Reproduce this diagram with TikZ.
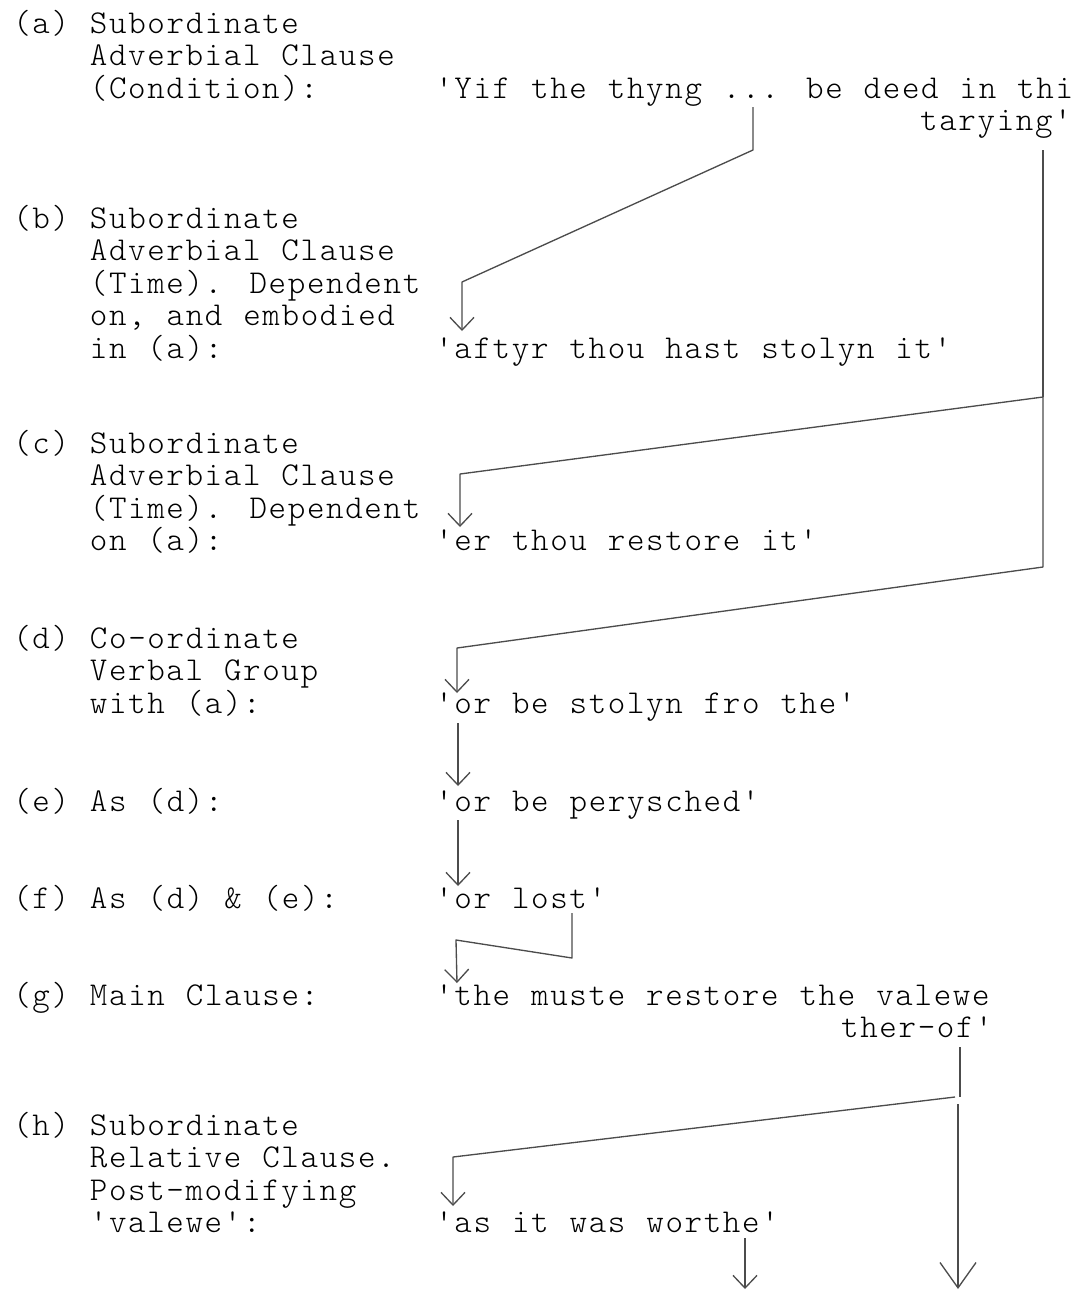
\documentclass[tikz,border=0pt]{standalone}
\usepackage{fontspec}
\newfontfamily\typefont{lmmonolt10-regular.otf}[LetterSpace=4.95,WordSpace={1.0943,0,0}]
\usetikzlibrary{arrows.meta}
\begin{document}
\begin{tikzpicture}[x=0.75pt,y=-0.75pt,
  txt/.style={anchor=base west,inner sep=0pt,font=\typefont\fontsize{25}{32}\selectfont},
  rtxt/.style={txt,anchor=base east},
  conn/.style={draw=black!70,line width=1pt,line join=round},
  arr/.style={conn,-{Straight Barb[length=9.5pt,width=18pt,line width=1pt]}},
  bigarr/.style={conn,-{Straight Barb[length=19pt,width=27pt,line width=1pt]}}]
\useasboundingbox (0,0) rectangle (1073,1290);
% (a)
\node[txt] (la1) at (13,33) {(a) Subordinate};
\node[txt] (la2) at (89.6,65.5) {Adverbial Clause};
\node[txt] (la3) at (89.6,98) {(Condition):};
\node[txt] (ra1) at (435,98) {'Yif the thyng ... be deed in thi};
\node[rtxt] (ra2) at (1072,130.5) {tarying'};
% (b)
\node[txt] (lb1) at (13,228) {(b) Subordinate};
\node[txt] (lb2) at (89.6,260.5) {Adverbial Clause};
\node[txt] (lb3) at (89.6,293) {(Time). Dependent};
\node[txt] (lb4) at (89.6,325.5) {on, and embodied};
\node[txt] (lb5) at (89.6,358) {in (a):};
\node[txt] (rb) at (435,358) {'aftyr thou hast stolyn it'};
% (c)
\node[txt] (lc1) at (13,453) {(c) Subordinate};
\node[txt] (lc2) at (89.6,485.5) {Adverbial Clause};
\node[txt] (lc3) at (89.6,518) {(Time). Dependent};
\node[txt] (lc4) at (89.6,550.5) {on (a):};
\node[txt] (rc) at (435,550.5) {'er thou restore it'};
% (d)
\node[txt] (ld1) at (13,648) {(d) Co-ordinate};
\node[txt] (ld2) at (89.6,680.5) {Verbal Group};
\node[txt] (ld3) at (89.6,713) {with (a):};
\node[txt] (rd) at (435,713) {'or be stolyn fro the'};
% (e)
\node[txt] (le) at (13,811) {(e) As (d):};
\node[txt] (re) at (435,811) {'or be perysched'};
% (f)
\node[txt] (lf) at (13,908) {(f) As (d) \& (e):};
\node[txt] (rf) at (435,908) {'or lost'};
% (g)
\node[txt] (lg) at (13,1005) {(g) Main Clause:};
\node[txt] (rg1) at (435,1005) {'the muste restore the valewe};
\node[rtxt] (rg2) at (993,1037.5) {ther-of'};
% (h)
\node[txt] (lh1) at (13,1135) {(h) Subordinate};
\node[txt] (lh2) at (89.6,1167.5) {Relative Clause.};
\node[txt] (lh3) at (89.6,1200) {Post-modifying};
\node[txt] (lh4) at (89.6,1232.5) {'valewe':};
\node[txt] (rh) at (435,1232.5) {'as it was worthe'};
% connector points
\coordinate (p1a) at (753,107);
\coordinate (p1b) at (753,150);
\coordinate (p1c) at (462,282);
\coordinate (p1d) at (462,331);
\coordinate (t0) at (1043,150);
\coordinate (t1) at (1043,397);
\coordinate (t2) at (1043,567);
\coordinate (p2a) at (460,474);
\coordinate (p2b) at (460,527);
\coordinate (p3a) at (457,648);
\coordinate (p3b) at (457,693);
\coordinate (p4a) at (458,723);
\coordinate (p4b) at (458,786);
\coordinate (p5a) at (458,820);
\coordinate (p5b) at (458,886);
\coordinate (p6a) at (572,913);
\coordinate (p6b) at (572,958);
\coordinate (p6c) at (456,940);
\coordinate (p6d) at (457,983);
\coordinate (g0) at (960,1047);
\coordinate (g1) at (960,1097);
\coordinate (g2) at (955,1097);
\coordinate (p7a) at (453,1157);
\coordinate (p7b) at (453,1206);
\coordinate (g3) at (958,1104);
\coordinate (g4) at (958,1289);
\coordinate (p8a) at (745,1238);
\coordinate (p8b) at (745,1289);
% connectors
\draw[arr] (p1a) -- (p1b) -- (p1c) -- (p1d);
\draw[conn] (t0) -- (t1);
\draw[arr] (t1) -- (p2a) -- (p2b);
\draw[arr] (t1) -- (t2) -- (p3a) -- (p3b);
\draw[arr] (p4a) -- (p4b);
\draw[arr] (p5a) -- (p5b);
\draw[arr] (p6a) -- (p6b) -- (p6c) -- (p6d);
\draw[conn] (g0) -- (g1);
\draw[arr] (g2) -- (p7a) -- (p7b);
\draw[bigarr] (g3) -- (g4);
\draw[arr] (p8a) -- (p8b);
\end{tikzpicture}
\end{document}
